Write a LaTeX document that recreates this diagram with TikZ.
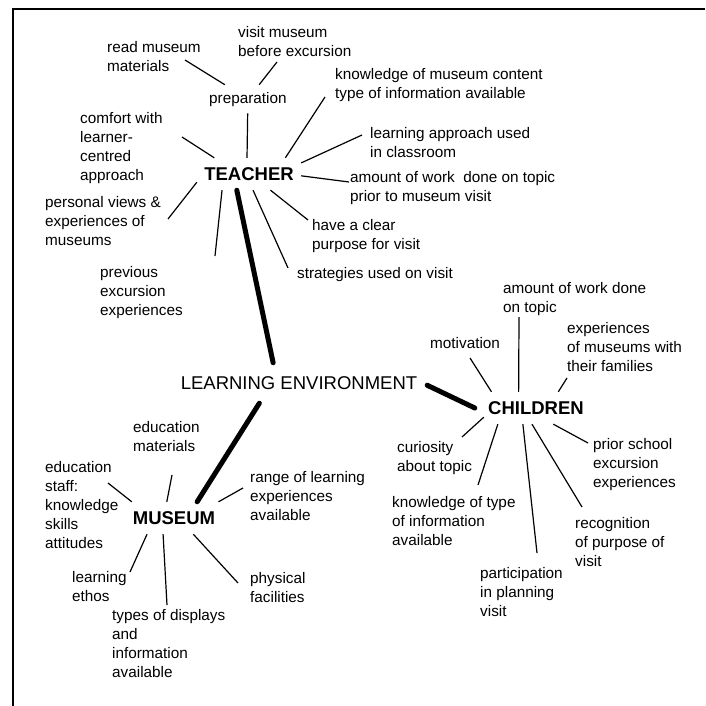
\documentclass[tikz,border=0pt]{standalone}
\usepackage{fontspec}
\setmainfont{Liberation Sans}

\tikzset{
  factor/.style={anchor=base west, align=left, inner sep=0pt,
    font=\fontsize{15.3}{19}\selectfont},
  hub/.style={rectangle, inner sep=0pt, minimum height=32pt,
    font=\bfseries\fontsize{18.5}{22}\selectfont}
}

\begin{document}
\begin{tikzpicture}[x=1pt,y=-1pt]
        \useasboundingbox (0,0) rectangle (705,706);
        \draw[line width=2pt] (705,9) -- (12.5,9) -- (12.5,706);

        \node[hub, minimum width=104pt] (teacher) at (249,174) {TEACHER};
        \node[hub, minimum width=104pt] (children) at (536,408) {CHILDREN};
        \node[hub, minimum width=92pt] (museum) at (174,518) {MUSEUM};
        \node[hub, font=\fontsize{18.5}{22}\selectfont, minimum width=256pt, minimum height=40pt] (learnenv) at (299,383) {LEARNING ENVIRONMENT};

        % base of a factor is the baseline of its last line
        \begin{scope}[every node/.style={factor}]
            \node (readmus) at (107,72) {read museum\\materials};
            \node (visitmus) at (238,57) {visit museum\\before excursion};
            \node[inner xsep=2pt, inner ysep=7pt] (prep) at (207,103) {preparation};
            \node (knowcont) at (335,99) {knowledge of museum content\\type of information available};
            \node (learnappr) at (370,157) {learning approach used\\in classroom};
            \node (amountwork) at (350,201) {amount of work\ \ done on topic\\prior to museum visit};
            \node (clearpurp) at (312,249) {have a clear\\purpose for visit};
            \node (strategies) at (297,278) {strategies used on visit};
            \node (comfort) at (80,180) {comfort with\\learner-\\centred\\approach};
            \node (personal) at (45,245) {personal views \&\\experiences of\\museums};
            \node (prevexc) at (100,315) {previous\\excursion\\experiences};

            \node (amountchild) at (503,312) {amount of work done\\on topic};
            \node (motivation) at (430,348) {motivation};
            \node (expfam) at (567,371) {experiences\\of museums with\\their families};
            \node (curiosity) at (397,471) {curiosity\\about topic};
            \node (knowtype) at (392,545) {knowledge of type\\of information\\available};
            \node (priorschool) at (593,487) {prior school\\excursion\\experiences};
            \node (recognition) at (575,566) {recognition\\of purpose of\\visit};
            \node (participation) at (480,616) {participation\\in planning\\visit};

            \node (edumat) at (133,451) {education\\materials};
            \node (edustaff) at (45,548) {education\\staff:\\knowledge\\skills\\attitudes};
            \node (range) at (250,520) {range of learning\\experiences\\available};
            \node (physical) at (250,602) {physical\\facilities};
            \node (types) at (112,677) {types of displays\\and\\information\\available};
            \node (ethos) at (72,601) {learning\\ethos};
        \end{scope}

        \coordinate (readmus-end) at (185,60);
        \coordinate (visitmus-end) at (277,62);
        \coordinate (knowcont-end) at (325,97);
        \coordinate (learnappr-end) at (362,135);
        \coordinate (amountwork-end) at (349,182);
        \coordinate (clearpurp-end) at (308,220);
        \coordinate (strategies-end) at (288,268);
        \coordinate (prevexc-end) at (215,256);
        \coordinate (personal-end) at (168,219);
        \coordinate (comfort-end) at (182,137);

        \coordinate (motivation-end) at (470,358);
        \coordinate (amountchild-end) at (519,317);
        \coordinate (expfam-end) at (567,378);
        \coordinate (priorschool-end) at (588,443);
        \coordinate (recognition-end) at (582,507);
        \coordinate (participation-end) at (537,553);
        \coordinate (knowtype-end) at (478,485);
        \coordinate (curiosity-end) at (462,437);

        \coordinate (edumat-end) at (172,475);
        \coordinate (edustaff-end) at (108,483);
        \coordinate (range-end) at (243,488);
        \coordinate (physical-end) at (238,583);
        \coordinate (types-end) at (167,605);
        \coordinate (ethos-end) at (130,572);

        \begin{scope}[every edge/.style={draw,line width=1.2pt}]
            \path [-] (readmus-end) edge (prep);
            \path [-] (visitmus-end) edge (prep);
            \path [-] (prep) edge (teacher.97);
            \path [-] (teacher.24) edge (knowcont-end);
            \path [-] (teacher.12) edge (learnappr-end);
            \path [-] (teacher.-2) edge (amountwork-end);
            \path [-] (teacher.-37) edge (clearpurp-end);
            \path [-] (teacher.-76) edge (strategies-end);
            \path [-] (teacher.-149) edge (prevexc-end);
            \path [-] (teacher.-171) edge (personal-end);
            \path [-] (teacher.155) edge (comfort-end);

            \path [-] (children.160) edge (motivation-end);
            \path [-] (children.137) edge (amountchild-end);
            \path [-] (children.36) edge (expfam-end);
            \path [-] (children.-43) edge (priorschool-end);
            \path [-] (children.-104) edge (recognition-end);
            \path [-] (children.-129) edge (participation-end);
            \path [-] (children.-157) edge (knowtype-end);
            \path [-] (children.-170) edge (curiosity-end);

            \path [-] (museum.114) edge (edumat-end);
            \path [-] (museum.159) edge (edustaff-end);
            \path [-] (museum.20) edge (range-end);
            \path [-] (museum.-40) edge (physical-end);
            \path [-] (museum.-124) edge (types-end);
            \path [-] (museum.-149) edge (ethos-end);
        \end{scope}
        \begin{scope}[every edge/.style={draw,line width=5pt,line cap=round}]
            \path [-] (teacher.-127) edge (learnenv.142);
            \path [-] (museum.35) edge (learnenv.-153);
            \path [-] (learnenv.-1) edge ([xshift=-9pt]children.west);
        \end{scope}
    \end{tikzpicture}
\end{document}
